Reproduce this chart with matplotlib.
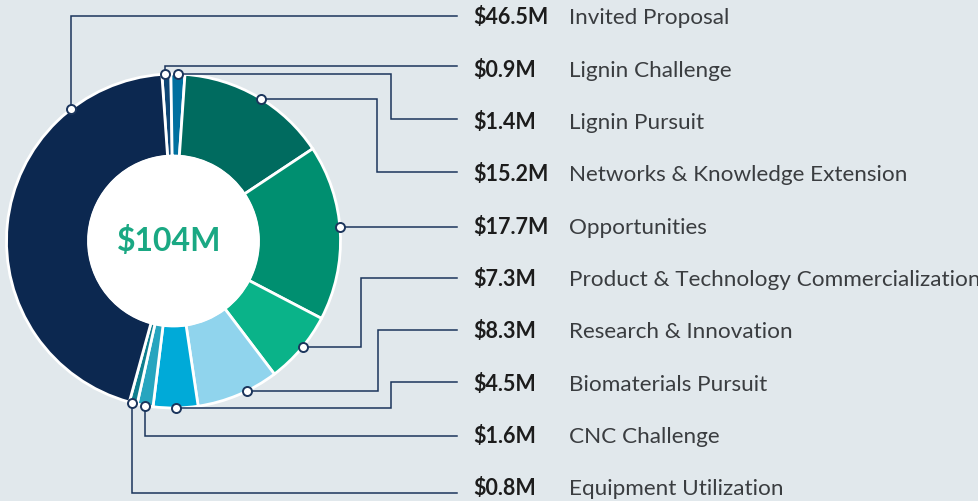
import matplotlib
matplotlib.use("Agg")
import matplotlib.pyplot as plt
import numpy as np
from matplotlib.patches import Circle

# ---- data ----
categories = ["Lignin Challenge", "Lignin Pursuit", "Networks & Knowledge Extension",
              "Opportunities", "Product & Technology Commercialization",
              "Research & Innovation", "Biomaterials Pursuit", "CNC Challenge",
              "Equipment Utilization", "Invited Proposal"]
values = [0.9, 1.4, 15.2, 17.7, 7.3, 8.3, 4.5, 1.6, 0.8, 46.5]
value_labels = ["$0.9M", "$1.4M", "$15.2M", "$17.7M", "$7.3M", "$8.3M",
                "$4.5M", "$1.6M", "$0.8M", "$46.5M"]
total_label = "$104M"
# order in which the labels are listed on the right (index into categories)
legend_order = [9, 0, 1, 2, 3, 4, 5, 6, 7, 8]

# ---- style ----
colors = ["#0e4675", "#00709f", "#006b5f", "#008f70", "#0ab389",
          "#90d4ed", "#00aad8", "#27a5bf", "#0f7e8e", "#0c2850"]
bg = "#e1e8ec"
line_col = "#1b355c"
W, H = 979, 502

fig = plt.figure(figsize=(W / 100, H / 100), dpi=100, facecolor=bg)
ax = fig.add_axes([0, 0, 1, 1])
ax.set_facecolor(bg)

cx, cy = 173.5, H - 242
R, r_in = 167, 85

wedges, _ = ax.pie(values, colors=colors, startangle=94, counterclock=False,
                   radius=R, center=(cx, cy),
                   wedgeprops=dict(width=R - r_in, edgecolor="white", linewidth=2))
ax.add_patch(Circle((cx, cy), r_in + 1, facecolor="white", edgecolor="none", zorder=3))
ax.text(cx - 4, cy + 1, total_label, ha="center", va="center", fontsize=23,
        fontweight="bold", color="#1aa883", family="Lato", zorder=4)

# anchor position within each wedge (fraction measured clockwise)
anchor_frac = [0.35, 0.5, 0.53, 0.47, 0.46, 0.38, 0.5, 0.5, 0.6, 0.79]
# leader routing: (kind, elbow x, line y in px from top)
routes = {
    9: ("v", None, 17),
    0: ("v", None, 67),
    1: ("hvh", 391, 120),
    2: ("hvh", 377, 173),
    3: ("h", None, None),
    4: ("hvh", 361, 279),
    5: ("hvh", 378, 331),
    6: ("hvh", 391, 383),
    7: ("v", None, 437),
    8: ("v", None, 494),
}
x_end = 457
x_val, x_lab = 473, 569

for row, idx in enumerate(legend_order):
    w = wedges[idx]
    a = np.deg2rad(w.theta2 - anchor_frac[idx] * (w.theta2 - w.theta1))
    px, py = cx + R * np.cos(a), cy + R * np.sin(a)
    kind, ex, ly = routes[idx]
    if kind == "v":
        xs, ys = [px, px, x_end], [py, H - ly, H - ly]
    elif kind == "h":
        xs, ys = [px, x_end], [py, py]
    else:
        xs, ys = [px, ex, ex, x_end], [py, py, H - ly, H - ly]
    ax.plot(xs, ys, color=line_col, lw=1.1, zorder=5, solid_joinstyle="miter")
    ax.plot([px], [py], marker="o", ms=6.5, mfc="white", mec=line_col, mew=1.4, zorder=6)

    base = H - (24.5 + 52.3 * row)
    ax.text(x_val, base, value_labels[idx], ha="left", va="baseline", fontsize=15.5,
            fontweight="bold", color="#1c1c1c", family="Lato")
    ax.text(x_lab, base, categories[idx], ha="left", va="baseline", fontsize=16.2,
            color="#3a3d40", family="Lato")

ax.set_xlim(0, W)
ax.set_ylim(0, H)
ax.set_aspect("equal")
ax.axis("off")
fig.savefig("out.png", dpi=100, facecolor=bg)
